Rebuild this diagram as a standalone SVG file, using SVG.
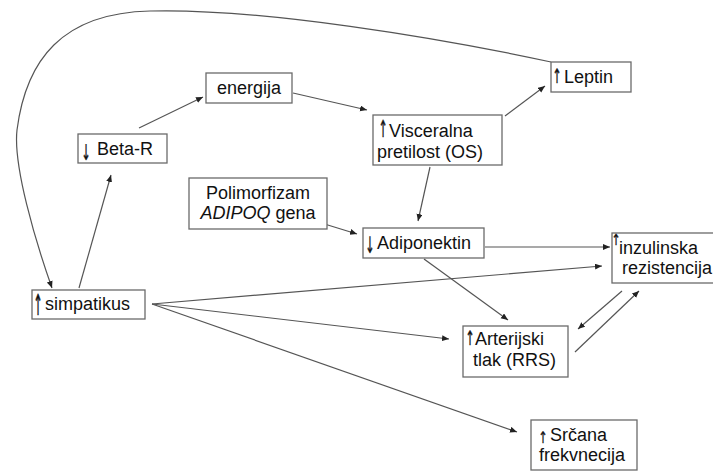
<svg xmlns="http://www.w3.org/2000/svg" width="713" height="471" viewBox="0 0 713 471">
<defs>
<marker id="ah" markerUnits="userSpaceOnUse" markerWidth="8" markerHeight="8" refX="7" refY="3" orient="auto">
<path d="M0,0 L7,3 L0,6 Z" fill="#222"/>
</marker>
<style>
.box{fill:#fff;stroke:#6a6a6a;stroke-width:1.3}
.t{font-family:"Liberation Sans",Arial,sans-serif;font-size:18px;fill:#111}
.ar{font-family:"DejaVu Sans",sans-serif;font-size:18px;fill:#111;stroke:#111;stroke-width:0.4;text-anchor:middle}
.c{fill:none;stroke:#555;stroke-width:1.2}
.a{marker-end:url(#ah)}
</style>
</defs>
<rect width="713" height="471" fill="#fff"/>
<g id="connectors">
<path class="c a" d="M551,62 C440,38 260,8 150,11 C62,13 26,60 17,130 C13,165 35,240 52,288"/>
<line class="c a" x1="79" y1="288" x2="111" y2="175"/>
<line class="c a" x1="139" y1="128" x2="203" y2="97"/>
<line class="c a" x1="293" y1="93" x2="367" y2="110"/>
<line class="c a" x1="505" y1="116" x2="545" y2="86"/>
<line class="c a" x1="430" y1="167" x2="418" y2="221"/>
<line class="c a" x1="318" y1="222" x2="357" y2="234"/>
<line class="c a" x1="485" y1="247" x2="610" y2="247"/>
<line class="c a" x1="424" y1="259" x2="508" y2="320"/>
<line class="c a" x1="152" y1="304" x2="602" y2="266"/>
<line class="c a" x1="152" y1="304" x2="449" y2="339"/>
<line class="c a" x1="152" y1="304" x2="517" y2="432"/>
<line class="c a" x1="622" y1="291" x2="578" y2="329"/>
<line class="c a" x1="575" y1="352" x2="639" y2="291"/>
</g>
<g id="leptin">
<rect class="box" x="551" y="62" width="80" height="30"/>
<text class="ar" transform="translate(557,83) scale(0.6,1.1)">↑</text>
<text class="t" x="564" y="83">Leptin</text>
</g>
<g id="energija">
<rect class="box" x="206" y="73" width="86" height="30"/>
<text class="t" x="249" y="94" text-anchor="middle">energija</text>
</g>
<g id="visceralna">
<rect class="box" x="373" y="115" width="129" height="50"/>
<text class="ar" transform="translate(383,137) scale(0.6,1.3)">↑</text>
<text class="t" x="389" y="137">Visceralna</text>
<text class="t" x="377" y="158">pretilost (OS)</text>
</g>
<g id="beta-r">
<rect class="box" x="78" y="134" width="89" height="29"/>
<text class="ar" transform="translate(86,160) scale(0.6,1.2)">↓</text>
<text class="t" x="97" y="155">Beta-R</text>
</g>
<g id="polimorfizam">
<rect class="box" x="189" y="178" width="138" height="51"/>
<text class="t" x="258" y="199" text-anchor="middle">Polimorfizam</text>
<text class="t" x="258" y="219" text-anchor="middle"><tspan font-style="italic">ADIPOQ</tspan> gena</text>
</g>
<g id="adiponektin">
<rect class="box" x="363" y="228" width="121" height="30"/>
<text class="ar" transform="translate(370,253) scale(0.6,1.25)">↓</text>
<text class="t" x="377" y="249">Adiponektin</text>
</g>
<g id="inzulinska">
<rect class="box" x="612" y="233" width="110" height="50"/>
<text class="ar" transform="translate(616,245) scale(0.6,0.85)">↑</text>
<text class="t" x="619" y="254">inzulinska</text>
<text class="t" x="622" y="274">rezistencija</text>
</g>
<g id="simpatikus">
<rect class="box" x="32" y="290" width="113" height="29"/>
<text class="ar" transform="translate(38,315) scale(0.6,1.6)">↑</text>
<text class="t" x="45" y="310">simpatikus</text>
</g>
<g id="arterijski">
<rect class="box" x="463" y="326" width="105" height="51"/>
<text class="ar" transform="translate(470,345) scale(0.6,1.1)">↑</text>
<text class="t" x="475" y="345">Arterijski</text>
<text class="t" x="473" y="366">tlak (RRS)</text>
</g>
<g id="srcana">
<rect class="box" x="531" y="420" width="106" height="50"/>
<text class="ar" transform="translate(543,443) scale(0.6,0.9)">↑</text>
<text class="t" x="550" y="441">Srčana</text>
<text class="t" x="539" y="461">frekvnecija</text>
</g>
</svg>
